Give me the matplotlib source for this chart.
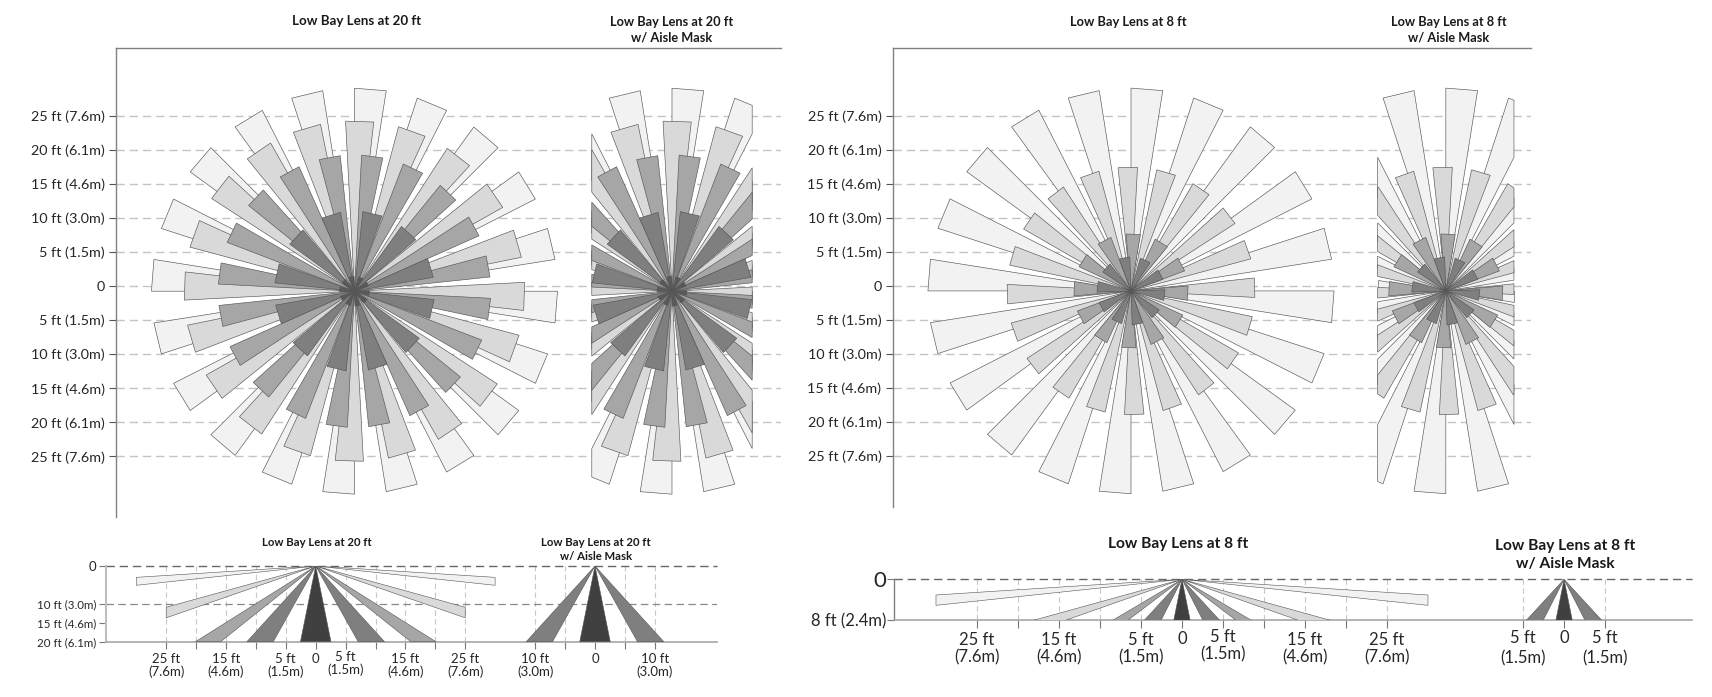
import matplotlib
matplotlib.use('Agg')
import matplotlib.pyplot as plt
from matplotlib.patches import Polygon
import numpy as np

plt.rcParams['font.family'] = ['Lato', 'DejaVu Sans']

W, H = 1712, 697

# colours by tier, lightest first
tier_colors = ['#f2f2f2', '#d9d9d9', '#a6a6a6', '#7f7f7f', '#595959']
side_colors = ['#f2f2f2', '#d9d9d9', '#a6a6a6', '#7f7f7f', '#404040']

# top view: radius (ft), start angle clockwise from north (deg), wedge width (deg)
radius_20 = [29.8, 25.0, 20.0, 11.75, 2.2]
starts_20 = [
    [0, 18, 36, 54, 72, 90, 108, 126, 144, 162, 180, 198, 216, 234, 252, 270, 288, 306, 324, 342],
    [-3, 15, 33, 51, 69, 87, 105, 123, 141, 159, 177, 195, 213, 231, 249, 267, 285, 303, 321, 339],
    [3, 21, 39, 57, 75, 93, 111, 129, 147, 165, 183, 201, 219, 237, 255, 273, 291, 309, 327, 345],
    [6, 36, 66, 96, 126, 156, 186, 216, 246, 276, 306, 336],
    [16, 52, 88, 124, 160, 196, 232, 268, 304, 340],
]
widths_20 = [9, 9.5, 9, 14, 18]

radius_8 = [29.8, 18.2, 8.4, 5.0]
starts_8 = [
    [0, 18, 36, 54, 72, 90, 108, 126, 144, 162, 180, 198, 216, 234, 252, 270, 288, 306, 324, 342],
    [-6, 12, 30, 48, 66, 84, 102, 120, 138, 156, 174, 192, 210, 228, 246, 264, 282, 300, 318, 336],
    [-5, 25, 55, 85, 115, 145, 175, 205, 235, 265, 295, 325],
    [16, 52, 88, 124, 160, 196, 232, 268, 304, 340],
]
widths_8 = [9, 9, 14.5, 18]

top_levels = [25, 20, 15, 10, 5, 0, -5, -10, -15, -20, -25]
top_labels = ['25 ft (7.6m)', '20 ft (6.1m)', '15 ft (4.6m)', '10 ft (3.0m)', '5 ft (1.5m)', '0',
              '5 ft (1.5m)', '10 ft (3.0m)', '15 ft (4.6m)', '20 ft (6.1m)', '25 ft (7.6m)']

# side view: far edge of each beam, (x, depth) in ft, outermost beam first
side20_x1 = [30.0, 25.0, 20.1, 11.5, 2.55]
side20_d1 = [3.0, 10.9, 20.0, 20.0, 20.0]
side20_x2 = [30.0, 25.0, 15.9, 7.1, 0.0]
side20_d2 = [5.1, 13.7, 20.0, 20.0, 20.0]

side8_x1 = [30.0, 18.1, 8.46, 4.6, 1.0]
side8_d1 = [3.06, 8.0, 8.0, 8.0, 8.0]
side8_x2 = [30.0, 14.2, 6.6, 2.55, 0.0]
side8_d2 = [5.08, 8.0, 8.0, 8.0, 8.0]

side20_ticks = [-25, -20, -15, -10, -5, 0, 5, 10, 15, 20, 25]
side20_labels = [(-25, '25 ft\n(7.6m)'), (-15, '15 ft\n(4.6m)'), (-5, '5 ft\n(1.5m)'), (0, '0'),
                 (5, '5 ft\n(1.5m)'), (15, '15 ft\n(4.6m)'), (25, '25 ft\n(7.6m)')]
mask20_ticks = [-10, -5, 0, 5, 10]
mask20_labels = [(-10, '10 ft\n(3.0m)'), (0, '0'), (10, '10 ft\n(3.0m)')]
side20_ylabels = [(0, '0'), (10, '10 ft (3.0m)'), (15, '15 ft (4.6m)'), (20, '20 ft (6.1m)')]

side8_ticks = [-25, -20, -15, -10, -5, 0, 5, 10, 15, 20, 25]
side8_labels = [(-25, '25 ft\n(7.6m)'), (-15, '15 ft\n(4.6m)'), (-5, '5 ft\n(1.5m)'), (0, '0'),
                (5, '5 ft\n(1.5m)'), (15, '15 ft\n(4.6m)'), (25, '25 ft\n(7.6m)')]
mask8_ticks = [-5, 0, 5]
mask8_labels = [(-5, '5 ft\n(1.5m)'), (0, '0'), (5, '5 ft\n(1.5m)')]


def axes_px(fig, x0, y0, x1, y1):
    return fig.add_axes([x0 / W, 1 - y1 / H, (x1 - x0) / W, (y1 - y0) / H])


def px_text(fig, x, y, s, size, **kw):
    fig.text(x / W, 1 - y / H, s, fontsize=size, ha=kw.pop('ha', 'center'), va=kw.pop('va', 'center'), **kw)


def clip_x(pts, xmin, xmax):
    # clip polygon against two vertical lines so the cut edge gets an outline too
    for limit, sign in ((xmin, 1), (xmax, -1)):
        out = []
        for i in range(len(pts)):
            a, b = pts[i], pts[(i + 1) % len(pts)]
            ina = sign * (a[0] - limit) >= 0
            inb = sign * (b[0] - limit) >= 0
            if ina:
                out.append(a)
            if ina != inb:
                t = (limit - a[0]) / (b[0] - a[0])
                out.append((limit, a[1] + t * (b[1] - a[1])))
        pts = out
        if not pts:
            break
    return pts


def draw_burst(ax, cx, cy, radii, starts, widths, half_width=None):
    for tier, (r, angs, w) in enumerate(zip(radii, starts, widths)):
        for a in angs:
            t1, t2 = np.radians(a), np.radians(a + w)
            pts = [(cx, cy),
                   (cx + r * np.sin(t1), cy + r * np.cos(t1)),
                   (cx + r * np.sin(t2), cy + r * np.cos(t2))]
            if half_width is not None:
                pts = clip_x(pts, cx - half_width, cx + half_width)
            if pts:
                ax.add_patch(Polygon(pts, closed=True, fc=tier_colors[tier], ec='#555555',
                                     lw=0.45, zorder=3 + tier))


def top_panel(fig, box, xlim, ylim, mask_x, half_width, radii, starts, widths):
    ax = axes_px(fig, *box)
    ax.set_xlim(*xlim)
    ax.set_ylim(*ylim)
    for s in ['right', 'bottom']:
        ax.spines[s].set_visible(False)
    for s in ['left', 'top']:
        ax.spines[s].set_color('#808080')
        ax.spines[s].set_linewidth(1.0)
    ax.set_xticks([])
    ax.set_yticks(top_levels, top_labels, fontsize=10.4, color='#262626')
    ax.tick_params(axis='y', length=5, width=0.8, color='#555555', pad=3)
    for lev in top_levels:
        ax.axhline(lev, color='#c4c4c4', lw=1.0, ls=(0, (6, 3.5)), zorder=1)
    draw_burst(ax, 0, -0.75, radii, starts, widths)
    draw_burst(ax, mask_x, -0.75, radii, starts, widths, half_width)
    return ax


def side_beams(ax, cx, xs1, ds1, xs2, ds2, colors):
    for x1, d1, x2, d2, c in zip(xs1, ds1, xs2, ds2, colors):
        if x2 == 0:
            ax.add_patch(Polygon([(cx, 0), (cx + x1, d1), (cx - x1, d1)], fc=c, ec='#555555', lw=0.4, zorder=3))
            continue
        for sgn in (1, -1):
            ax.add_patch(Polygon([(cx, 0), (cx + sgn * x1, d1), (cx + sgn * x2, d2)],
                                 fc=c, ec='#555555', lw=0.4, zorder=3))


def side_panel(fig, box, xlim, depth, mask_x, spine_col, spine_lw):
    ax = axes_px(fig, *box)
    ax.set_xlim(*xlim)
    ax.set_ylim(depth, 0)
    for s in ['right', 'top']:
        ax.spines[s].set_visible(False)
    ax.spines['left'].set_color(spine_col)
    ax.spines['left'].set_linewidth(spine_lw)
    ax.spines['bottom'].set_color('#a6a6a6')
    ax.spines['bottom'].set_linewidth(1.2)
    ax.axhline(0, color='#666666', lw=1.0, ls=(0, (6, 3.5)), zorder=2, clip_on=False)
    return ax


def x_labels(ax, cx, labels, drop, size, spacing, nudges=None):
    for i, (x, s) in enumerate(labels):
        dy = drop + (nudges[i] if nudges else 0)
        ax.annotate(s, xy=(cx + x, 0), xycoords=ax.get_xaxis_transform(), xytext=(0, -dy),
                    textcoords='offset pixels', ha='center', va='top', fontsize=size,
                    linespacing=spacing, color='#262626')


fig = plt.figure(figsize=(W / 100, H / 100), dpi=100)

# top left, 20 ft
top_panel(fig, (116, 47.7, 781, 517), (-35.0, 62.6), (-33.9, 35.0), 46.6, 11.77,
          radius_20, starts_20, widths_20)
px_text(fig, 357, 21, 'Low Bay Lens at 20 ft', 9.6, weight='bold', color='#1a1a1a')
px_text(fig, 672, 29.5, 'Low Bay Lens at 20 ft\nw/ Aisle Mask', 9.2, weight='bold', color='#1a1a1a', linespacing=1.35)

# top right, 8 ft
top_panel(fig, (892.5, 48.3, 1531, 507), (-35.0, 58.7), (-32.5, 34.9), 46.2, 10.0,
          radius_8, starts_8, widths_8)
px_text(fig, 1128, 22, 'Low Bay Lens at 8 ft', 9.3, weight='bold', color='#1a1a1a')
px_text(fig, 1449, 30, 'Low Bay Lens at 8 ft\nw/ Aisle Mask', 9.2, weight='bold', color='#1a1a1a', linespacing=1.35)

# bottom left, 20 ft side view
ax = side_panel(fig, (105.8, 566, 717, 641.7), (-35.1, 67.1), 20, 46.7, '#bfbfbf', 1.5)
ax.axhline(10, color='#888888', lw=0.9, ls=(0, (6, 3.5)), zorder=2)
ticks = list(side20_ticks) + [46.7 + t for t in mask20_ticks]
ax.set_xticks(ticks, [''] * len(ticks))
ax.tick_params(axis='x', length=5, width=0.8, color='#777777')
for t in ticks:
    if t != 0 and t != 46.7:
        ax.axvline(t, color='#c8c8c8', lw=0.8, ls=(0, (5, 3)), zorder=1)
ax.set_yticks([d for d, _ in side20_ylabels], [s for _, s in side20_ylabels], fontsize=8.3, color='#262626')
ax.get_yticklabels()[0].set_fontsize(9.5)
ax.tick_params(axis='y', length=5, width=0.8, color='#777777', pad=2)
side_beams(ax, 0, side20_x1, side20_d1, side20_x2, side20_d2, side_colors)
side_beams(ax, 46.7, side20_x1[3:], side20_d1[3:], side20_x2[3:], side20_d2[3:], side_colors[3:])
x_labels(ax, 0, side20_labels, 11, 9.5, 1.1, [0, 0, 0, 0, -2, 0, 0])
x_labels(ax, 46.7, mask20_labels, 11, 9.5, 1.1)
px_text(fig, 317, 542, 'Low Bay Lens at 20 ft', 8.2, weight='bold', color='#1a1a1a')
px_text(fig, 596, 549.5, 'Low Bay Lens at 20 ft\nw/ Aisle Mask', 8.2, weight='bold', color='#1a1a1a', linespacing=1.35)

# bottom right, 8 ft side view
ax = side_panel(fig, (894.4, 579.3, 1692, 620.3), (-35.07, 62.2), 8, 46.6, '#808080', 1.0)
ticks = list(side8_ticks) + [46.6 + t for t in mask8_ticks]
ax.set_xticks(ticks, [''] * len(ticks))
ax.tick_params(axis='x', length=6, width=0.8, color='#777777')
for t in ticks:
    if t != 0 and t != 46.6:
        ax.axvline(t, color='#c8c8c8', lw=0.8, ls=(0, (5, 3)), zorder=1)
ax.set_yticks([0, 8], ['0', '8 ft (2.4m)'], color='#262626')
ax.get_yticklabels()[0].set_fontsize(16)
ax.get_yticklabels()[1].set_fontsize(12)
ax.tick_params(axis='y', length=5, width=0.8, color='#777777', pad=1)
side_beams(ax, 0, side8_x1, side8_d1, side8_x2, side8_d2, side_colors)
side_beams(ax, 46.6, side8_x1[3:], side8_d1[3:], side8_x2[3:], side8_d2[3:], side_colors[3:])
x_labels(ax, 0, side8_labels, 12, 12, 1.1, [0, 0, 0, -1, -3, 0, 0])
x_labels(ax, 46.6, mask8_labels, 10, 12, 1.3)
px_text(fig, 1178, 544, 'Low Bay Lens at 8 ft', 11.2, weight='bold', color='#1a1a1a')
px_text(fig, 1565, 555, 'Low Bay Lens at 8 ft\nw/ Aisle Mask', 11.2, weight='bold', color='#1a1a1a', linespacing=1.35)

fig.savefig('out.png', dpi=100)
